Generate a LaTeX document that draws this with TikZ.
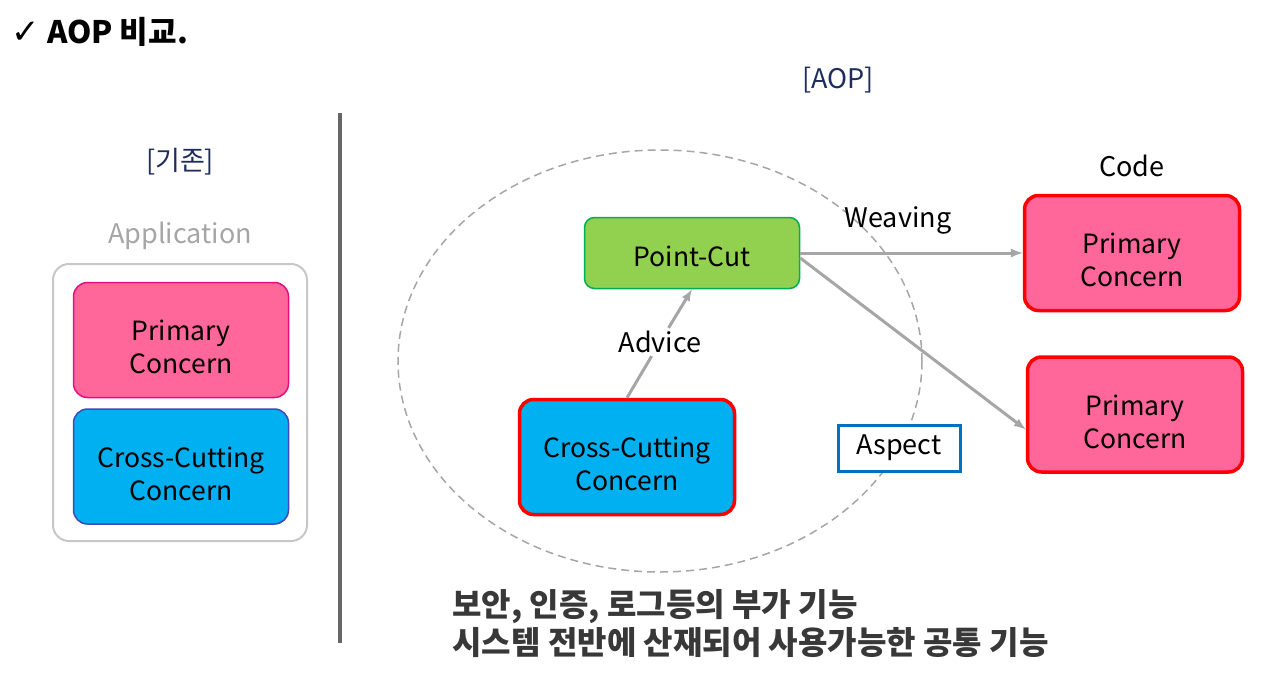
\documentclass[tikz,border=0pt]{standalone}
\usepackage{fontspec}
\setmainfont{Noto Sans CJK KR}
\newfontfamily\symfont{DejaVu Sans}
\usetikzlibrary{positioning}
\definecolor{navy}{HTML}{1F2D5C}
\definecolor{pinkfill}{HTML}{FF6699}
\definecolor{cyanfill}{HTML}{00B0F0}
\definecolor{greenfill}{HTML}{92D050}
\definecolor{greenline}{HTML}{00B050}
\definecolor{arrowgray}{HTML}{A6A6A6}
\definecolor{aspectblue}{HTML}{0070C0}
\newcommand\lift[1]{\rule{0pt}{#1}}
\tikzstyle{boxbase}=[
draw,
shape=rectangle,
align=center,
font=\fontsize{26.5}{33}\selectfont
]
\tikzstyle{concern}=[
boxbase,
rounded corners=14pt,
minimum width=215pt,
minimum height=115pt
]
\tikzstyle{primary} = [concern,fill=pinkfill,draw=red,line width=3.5pt]
\tikzstyle{crosscut} = [concern,fill=cyanfill]
\tikzstyle{txt} = [font=\fontsize{27}{30}\selectfont]
\tikzstyle{link} = [draw=arrowgray,line width=3pt,-latex]

\begin{document}
\begin{tikzpicture}[x=1pt,y=-1pt]
\useasboundingbox (0,0) rectangle (1280,677);

% title
\node[anchor=west,font=\fontsize{31}{34}\selectfont\bfseries] (title) at (8,32) {{\symfont\fontsize{34}{38}\selectfont ✓} AOP 비교.};

% left part
\node[txt,text=navy] (old) at (180,162) {[기존]};
\node[txt,text=arrowgray] (app) at (180,236) {Application};
\draw[draw=black!22,line width=2pt,rounded corners=16pt] (53,264) rectangle (307,541);
\node[concern,fill=pinkfill,draw=magenta!80!purple,line width=1.5pt] (prim0) at (181,340) {\lift{35pt}Primary\\Concern};
\node[crosscut,draw=blue!45!gray,line width=1.5pt] (cc0) [below=10pt of prim0] {\lift{35pt}Cross-Cutting\\Concern};

\draw[draw=black!60,line width=3.5pt] (340,113) -- (340,643);

% right part
\node[txt,text=navy] (aop) at (838,80) {[AOP]};
\draw[draw=arrowgray,line width=1.5pt,dash pattern=on 8pt off 5pt] (660,361) ellipse (262pt and 211pt);

\node[boxbase,fill=greenfill,draw=greenline,line width=1.5pt,minimum width=215pt,minimum height=71pt,rounded corners=10pt] (pc) at (692,253) {\lift{27pt}Point-Cut};
\node[crosscut,draw=red,line width=3.5pt] (cc) at (627,457) {\lift{35pt}Cross-Cutting\\Concern};
\node[txt] (code) at (1132,166) {Code};
\node[primary] (prim1) at (1132,253) {\lift{35pt}Primary\\Concern};
\node[primary] (prim2) [below=43pt of prim1.south,anchor=north,xshift=3pt] {\lift{35pt}Primary\\Concern};
\node[txt,draw=aspectblue,line width=3pt,fill=white,minimum width=122pt,minimum height=46pt] (aspect) at (899,448) {Aspect};

\node[txt,inner sep=3pt] (advice) at (660,342) {Advice};
\node[txt] (weave) at (898,220) {Weaving};

\draw[draw=arrowgray,line width=3pt] (cc.north) -- (advice);
\draw[link] (advice) -- (pc.south);
\draw[link] (pc.east) -- (prim1.west);
\draw[link] ([yshift=-5pt]pc.east) -- ([yshift=-15pt]prim2.west);

\node[anchor=west,align=left,text=black!78,font=\fontsize{32}{38}\selectfont\bfseries] (note) at (449,624) {보안, 인증, 로그등의 부가 기능\\시스템 전반에 산재되어 사용가능한 공통 기능};

\end{tikzpicture}
\end{document}
